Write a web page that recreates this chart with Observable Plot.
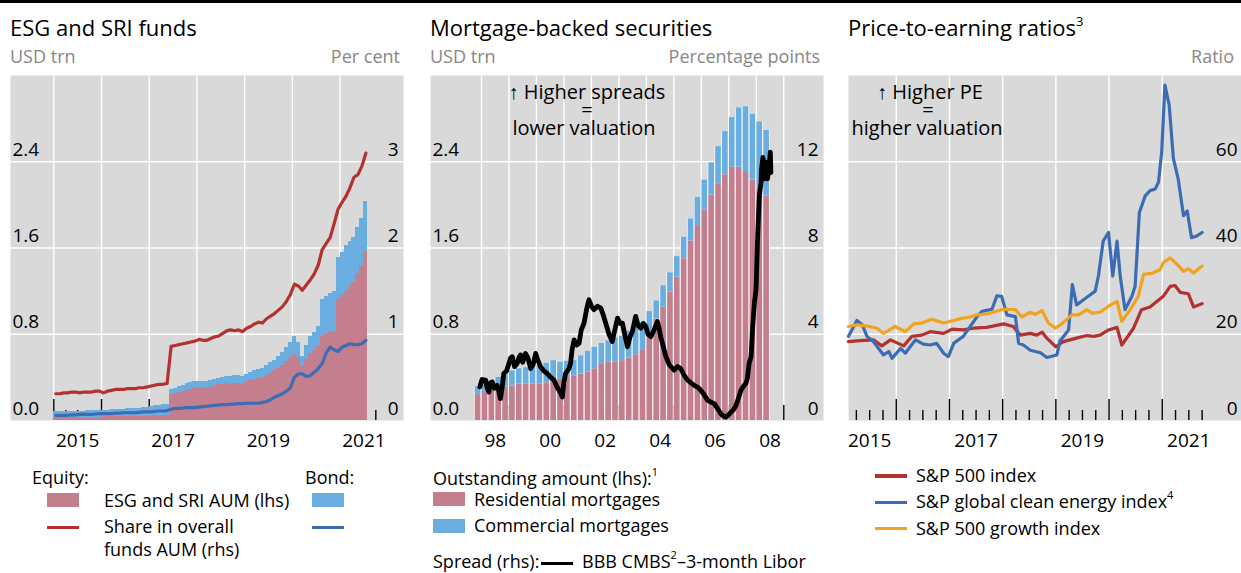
<!DOCTYPE html>
<html><head><meta charset="utf-8">
<script src="https://cdn.jsdelivr.net/npm/d3@7"></script>
<script src="https://cdn.jsdelivr.net/npm/@observablehq/plot@0.6"></script>
<style>
body{margin:0;background:#fff;font-family:"Open Sans",sans-serif;}
#c{position:relative;width:1241px;height:573px;overflow:hidden;font-family:"Open Sans",sans-serif;color:#000;}
.a{position:absolute;white-space:nowrap;line-height:1;}
.title{font-size:22px;top:16px;}
.unit{font-size:18px;color:#878787;top:47px;}
.leg{font-size:18px;}
.sup{font-size:11px;position:relative;top:-9px;}
.note{position:absolute;width:300px;text-align:center;font-family:"Open Sans",sans-serif;font-size:20px;line-height:18px;white-space:nowrap;z-index:2;}
.eq{line-height:10px;}
</style></head>
<body><div id="c">
<div class="a" style="left:0;top:0;width:1241px;height:3px;background:#000"></div>
<div class="a title" style="left:10px">ESG and SRI funds</div>
<div class="a title" style="left:430px">Mortgage-backed securities</div>
<div class="a title" style="left:848px">Price-to-earning ratios<span class="sup" style="font-size:13px;top:-10px">3</span></div>
<div class="a unit" style="left:10px">USD trn</div>
<div class="a unit" style="right:841px">Per cent</div>
<div class="a unit" style="left:430px">USD trn</div>
<div class="a unit" style="right:421px">Percentage points</div>
<div class="a unit" style="right:7px">Ratio</div>

<!-- legend panel 1 -->
<div class="a leg" style="left:32px;top:468px">Equity:</div>
<div class="a leg" style="left:305px;top:468px">Bond:</div>
<div class="a" style="left:47px;top:493px;width:32px;height:14px;background:#c47f8e"></div>
<div class="a leg" style="left:104px;top:491px">ESG and SRI AUM (lhs)</div>
<div class="a" style="left:312px;top:493px;width:32px;height:14px;background:#6aade0"></div>
<div class="a" style="left:47px;top:525.5px;width:32px;height:3.5px;background:#b3312f"></div>
<div class="a leg" style="left:104px;top:517px">Share in overall</div>
<div class="a leg" style="left:104px;top:540px">funds AUM (rhs)</div>
<div class="a" style="left:312px;top:525.5px;width:32px;height:3.5px;background:#3c6db4"></div>

<!-- legend panel 2 -->
<div class="a leg" style="left:433px;top:469px">Outstanding amount (lhs):<span class="sup">1</span></div>
<div class="a" style="left:433px;top:492px;width:32px;height:14px;background:#c47f8e"></div>
<div class="a leg" style="left:474px;top:490px">Residential mortgages</div>
<div class="a" style="left:433px;top:519px;width:32px;height:14px;background:#6aade0"></div>
<div class="a leg" style="left:474px;top:516px">Commercial mortgages</div>
<div class="a leg" style="left:433px;top:552px">Spread (rhs):</div>
<div class="a" style="left:541px;top:561.5px;width:32px;height:3.6px;background:#000"></div>
<div class="a leg" style="left:582px;top:552px">BBB CMBS<span class="sup">2</span>–3-month Libor</div>

<!-- legend panel 3 -->
<div class="a" style="left:875px;top:474.3px;width:32px;height:3.4px;background:#b3312f"></div>
<div class="a leg" style="left:916px;top:466px">S&amp;P 500 index</div>
<div class="a" style="left:875px;top:500.6px;width:32px;height:3.4px;background:#3c6db4"></div>
<div class="a leg" style="left:916px;top:492px">S&amp;P global clean energy index<span class="sup">4</span></div>
<div class="a" style="left:875px;top:526.6px;width:32px;height:3.4px;background:#f0a31f"></div>
<div class="a leg" style="left:916px;top:519px">S&amp;P 500 growth index</div>

<div class="note" style="left:437px;top:83px">↑ Higher spreads</div>
<div class="note eq" style="left:437px;top:105px">=</div>
<div class="note" style="left:434px;top:119px">lower valuation</div>
<div class="note" style="left:780px;top:83px">↑ Higher PE</div>
<div class="note eq" style="left:778px;top:105px">=</div>
<div class="note" style="left:777px;top:119px">higher valuation</div>
</div>
<script>
// ---------------- Panel 1: ESG and SRI funds (monthly, from Jan 2015) ----------------
const esgStartYear = 2015;
const esgEquityAUM = [
 0.03,0.03,0.03,0.03,0.03,0.03,0.03,0.03,0.03,0.03,0.03,0.03,
 0.035,0.035,0.035,0.035,0.035,0.035,0.04,0.04,0.04,0.04,0.04,0.04,
 0.045,0.045,0.05,0.05,0.05,0.24,0.25,0.26,0.27,0.28,0.29,0.30,
 0.31,0.31,0.30,0.31,0.32,0.33,0.33,0.34,0.33,0.34,0.34,0.33,
 0.36,0.37,0.38,0.39,0.40,0.42,0.44,0.46,0.48,0.51,0.55,0.58,
 0.61,0.58,0.50,0.57,0.62,0.65,0.69,0.78,0.80,0.82,0.83,1.12,
 1.16,1.20,1.24,1.28,1.36,1.43,1.56];
const esgBondAUM = [
 0.05,0.05,0.055,0.055,0.055,0.055,0.055,0.055,0.06,0.06,0.06,0.06,
 0.06,0.06,0.065,0.065,0.065,0.07,0.07,0.07,0.075,0.075,0.08,0.08,
 0.085,0.09,0.09,0.095,0.10,0.05,0.05,0.055,0.055,0.06,0.06,0.06,
 0.05,0.055,0.06,0.06,0.06,0.06,0.065,0.065,0.08,0.08,0.08,0.08,
 0.07,0.075,0.08,0.08,0.085,0.09,0.095,0.10,0.11,0.12,0.13,0.14,
 0.17,0.14,0.09,0.13,0.16,0.17,0.18,0.34,0.35,0.36,0.37,0.39,
 0.40,0.42,0.42,0.42,0.43,0.44,0.47];
const equityShare = [
 0.31,0.31,0.32,0.32,0.33,0.33,0.32,0.33,0.33,0.33,0.34,0.34,
 0.32,0.34,0.35,0.36,0.36,0.36,0.37,0.37,0.37,0.38,0.38,0.39,
 0.40,0.41,0.42,0.42,0.43,0.86,0.87,0.88,0.89,0.90,0.91,0.92,
 0.94,0.93,0.93,0.95,0.97,0.98,1.01,1.04,1.05,1.04,1.05,1.03,
 1.07,1.09,1.12,1.14,1.13,1.18,1.21,1.24,1.28,1.32,1.38,1.46,
 1.58,1.56,1.51,1.57,1.63,1.70,1.80,1.98,2.05,2.12,2.28,2.45,
 2.53,2.60,2.70,2.82,2.85,2.95,3.10];
const bondShare = [
 0.06,0.06,0.06,0.06,0.065,0.065,0.07,0.07,0.07,0.07,0.075,0.08,
 0.08,0.08,0.08,0.085,0.085,0.09,0.09,0.09,0.09,0.095,0.10,0.10,
 0.10,0.105,0.11,0.11,0.115,0.13,0.14,0.14,0.145,0.15,0.15,0.15,
 0.155,0.16,0.165,0.17,0.175,0.18,0.185,0.185,0.19,0.19,0.195,0.195,
 0.20,0.20,0.20,0.20,0.21,0.22,0.24,0.27,0.29,0.31,0.34,0.38,
 0.50,0.54,0.54,0.51,0.52,0.56,0.60,0.66,0.78,0.85,0.82,0.80,
 0.85,0.87,0.89,0.88,0.88,0.89,0.93];
const esgYearLabels = ["2015","2017","2019","2021"];
const esgGridYears = [2015,2016,2017,2018,2019,2020,2021];
const lhsTicks = [0, 0.8, 1.6, 2.4];

// ---------------- Panel 2: Mortgage-backed securities (quarterly, from 1997 Q4) ----------------
const mbsStart = 1997.75;
const mbsResidential = [0.24,
 0.27,0.28,0.28,0.31, 0.32,0.34,0.34,0.34, 0.34,0.35,0.37,0.38, 0.40,0.41,0.43,0.45,
 0.48,0.52,0.54,0.54, 0.555,0.58,0.61,0.65, 0.78,0.94,1.05,1.19, 1.33,1.50,1.665,1.80,
 1.95,2.09,2.19,2.28, 2.35,2.35,2.31,2.23, 2.16,2.08];
const mbsCommercial = [0.075,
 0.10,0.09,0.12,0.11, 0.14,0.14,0.15,0.16, 0.17,0.18,0.185,0.16, 0.15,0.145,0.17,0.19,
 0.20,0.195,0.20,0.225, 0.225,0.25,0.26,0.26, 0.23,0.17,0.20,0.18, 0.19,0.20,0.205,0.27,
 0.28,0.30,0.35,0.40, 0.46,0.55,0.60,0.61, 0.61,0.61];
const spreadDates = [1997.94,1998.02,1998.15,1998.21,1998.27,1998.33,1998.39,1998.47,1998.57,1998.64,1998.69,1998.75,1998.81,1998.91,
 1999.00,1999.06,1999.12,1999.20,1999.30,1999.36,1999.42,1999.50,1999.60,1999.69,1999.79,1999.88,1999.97,
 2000.05,2000.15,2000.27,2000.39,2000.52,2000.64,2000.73,2000.82,2000.94,
 2001.00,2001.06,2001.18,2001.24,2001.30,2001.37,2001.46,2001.55,2001.63,2001.73,2001.83,2001.91,
 2002.00,2002.09,2002.22,2002.34,2002.43,2002.52,2002.64,2002.76,2002.85,2002.95,
 2003.04,2003.13,2003.21,2003.31,2003.41,2003.49,2003.61,2003.70,2003.80,2003.89,2003.98,
 2004.06,2004.16,2004.28,2004.40,2004.46,2004.52,2004.62,2004.71,2004.83,
 2005.01,2005.13,2005.25,2005.37,2005.50,2005.62,2005.74,2005.86,2005.98,
 2006.10,2006.23,2006.35,2006.47,2006.59,2006.71,2006.81,2006.89,2006.98,
 2007.08,2007.17,2007.26,2007.34,2007.44,2007.54,2007.62,2007.68,2007.74,2007.81,2007.87,2007.93,2007.99,
 2008.05,2008.11,2008.17,2008.19,2008.24,2008.29,2008.35,2008.41,2008.47,2008.51,2008.53];
const spreadValues = [1.56,1.9,1.87,1.5,1.32,1.75,1.79,1.5,1.63,1.3,1.01,1.5,2.18,2.3,
 2.65,2.9,2.96,2.5,2.65,2.9,3.04,2.7,3.11,2.9,2.41,2.6,3.11,
 2.8,2.49,2.3,2.18,2.0,1.87,1.6,1.40,1.09,
 1.8,2.18,2.4,2.65,3.3,3.74,3.5,3.58,4.2,4.51,5.2,5.6,
 5.3,5.14,5.3,5.21,4.9,4.51,4.0,3.66,4.2,4.75,
 4.5,4.51,4.0,3.42,3.9,4.12,4.83,4.4,4.28,4.5,4.36,
 4.0,3.89,4.2,4.59,4.3,3.89,3.4,2.96,2.6,
 2.33,2.5,2.41,2.1,1.87,1.75,1.63,1.55,1.40,
 1.2,0.93,0.85,0.78,0.55,0.31,0.2,0.16,0.25,
 0.39,0.5,0.7,1.0,1.4,1.6,1.71,2.0,2.65,2.96,4.36,5.45,6.07,
 8.56,10.43,11.0,11.67,12.2,11.21,11.98,11.21,11.83,12.45,11.5];
const mbsYearLabels = ["98","00","02","04","06","08"];
const mbsLabelYears = [1998,2000,2002,2004,2006,2008];
const mbsGridYears = [1998,1999,2000,2001,2002,2003,2004,2005,2006,2007,2008,2009];

// ---------------- Panel 3: Price-to-earning ratios ----------------
const sp500Dates = [2015.10,2015.32,2015.57,2015.73,2015.89,2016.14,2016.29,2016.48,2016.64,2016.89,2017.05,2017.26,2017.45,2017.70,2018.02,2018.20,2018.33,2018.52,2018.64,2018.74,2018.83,2019.00,2019.14,2019.39,2019.58,2019.71,2019.83,2019.99,2020.15,2020.24,2020.46,2020.61,2020.77,2021.02,2021.15,2021.24,2021.34,2021.49,2021.59,2021.75];
const sp500PE = [18.3,18.5,18.7,17.3,18.7,17.3,19.5,19.8,20.6,20.2,21.2,21.0,21.4,21.6,22.4,21.8,19.8,20.2,19.8,20.5,19.1,17.1,18.3,19.1,19.7,19.5,19.8,21.0,21.6,17.5,21.4,25.7,26.3,28.8,31.1,31.3,29.7,29.4,26.3,27.1];
const growthDates = [2015.10,2015.26,2015.45,2015.64,2015.76,2015.98,2016.17,2016.33,2016.48,2016.67,2016.89,2017.08,2017.23,2017.39,2017.52,2017.70,2017.98,2018.08,2018.24,2018.36,2018.52,2018.61,2018.74,2018.86,2018.99,2019.14,2019.30,2019.43,2019.58,2019.68,2019.83,2019.99,2020.15,2020.24,2020.40,2020.55,2020.65,2020.80,2020.96,2021.02,2021.15,2021.27,2021.40,2021.49,2021.59,2021.75];
const growthPE = [21.8,22.2,21.9,21.4,20.2,21.8,20.6,22.4,22.6,23.5,22.6,23.2,23.7,24.0,24.5,24.7,25.7,25.8,25.7,24.0,25.1,24.6,25.5,22.6,21.4,22.7,24.5,24.5,25.7,24.9,25.1,26.5,27.6,23.0,25.7,28.8,33.9,34.1,35.0,36.6,37.7,36.3,34.6,35.2,34.2,35.8];
const cleanDates = [2015.10,2015.26,2015.36,2015.45,2015.57,2015.76,2015.86,2015.92,2016.08,2016.17,2016.36,2016.51,2016.64,2016.76,2016.89,2016.98,2017.08,2017.26,2017.39,2017.52,2017.61,2017.80,2017.89,2017.98,2018.08,2018.24,2018.30,2018.39,2018.52,2018.71,2018.83,2019.02,2019.08,2019.24,2019.31,2019.39,2019.52,2019.61,2019.74,2019.80,2019.89,2019.99,2020.07,2020.15,2020.21,2020.30,2020.43,2020.49,2020.57,2020.68,2020.77,2020.87,2020.93,2020.99,2021.05,2021.13,2021.21,2021.30,2021.40,2021.47,2021.55,2021.65,2021.75];
const cleanPE = [19.5,23.2,22.2,19.5,18.3,15.2,16.0,14.4,16.7,15.6,18.7,17.7,17.5,17.9,15.6,14.8,17.9,19.5,21.8,24.1,25.3,25.8,28.9,28.8,24.5,24.1,17.9,17.5,16.3,15.7,14.6,15.2,18.5,21.0,31.5,26.8,28.0,28.8,30.0,33.5,41.6,43.6,33.5,41.6,33.5,25.7,28.8,31.1,48.2,52.1,53.3,53.7,55.3,62.3,77.8,73.2,60.7,56.0,47.5,48.6,42.4,42.8,43.6];
const peYearLabels = ["2015","2017","2019","2021"];
const peGridYears = [2016,2017,2018,2019,2020,2021];
const peTicks = [0,20,40,60];

// ---------------- styles ----------------
const bg = "#d9d9d9", pink = "#c47f8e", lblue = "#6aade0", red = "#b3312f", dblue = "#3c6db4", orange = "#f0a31f";
const base = {height: 460, marginLeft: 10, marginTop: 75, marginBottom: 40,
  style: {fontFamily: '"Open Sans", sans-serif', fontSize: "19px", background: "transparent", overflow: "visible", color: "#000"}};
const grid = {stroke: "white", strokeOpacity: 1, strokeWidth: 1.4};
const yAxisL = {anchor: "left", label: null, tickSize: 0, tickPadding: 0, dx: 2, dy: -6, textAnchor: "start", lineAnchor: "bottom"};
const yAxisR = {anchor: "right", label: null, tickSize: 0, tickPadding: 0, dx: -5, dy: -6, textAnchor: "end", lineAnchor: "bottom"};
const xAxis = {anchor: "bottom", label: null, tickSize: 0, tickPadding: 13};
function mount(svg, left) {
  svg.style.position = "absolute"; svg.style.left = left + "px"; svg.style.top = "0px";
  document.getElementById("c").appendChild(svg);
}
const quarters = ys => ys.flatMap(y => [y + 0.25, y + 0.5, y + 0.75]);

// Panel 1
const esg = esgEquityAUM.map((eq, i) => ({
  x1: esgStartYear + i / 12, x2: esgStartYear + (i + 1) / 12, xm: esgStartYear + (i + 0.5) / 12,
  eq, tot: eq + esgBondAUM[i], eqShare: equityShare[i], bondShare: bondShare[i]}));
mount(Plot.plot({...base, width: 420, marginRight: 17,
  x: {domain: [2014.092, 2022.33], label: null}, y: {domain: [0, 3.2], label: null},
  marks: [
    Plot.frame({fill: bg}),
    Plot.gridX(esgGridYears, grid),
    Plot.gridY(lhsTicks.slice(1), grid),
    Plot.ruleX(esgGridYears, {x: d => d, stroke: "black", strokeWidth: 1.4, insetTop: 324}),
    Plot.ruleX(quarters(esgGridYears), {x: d => d, stroke: "black", strokeWidth: 1.4, insetTop: 335}),
    Plot.rectY(esg, {x1: "x1", x2: "x2", y1: 0, y2: "eq", fill: pink, shapeRendering: "crispEdges"}),
    Plot.rectY(esg, {x1: "x1", x2: "x2", y1: "eq", y2: "tot", fill: lblue, shapeRendering: "crispEdges"}),
    Plot.line(esg, {x: "xm", y: d => d.eqShare * 0.8, stroke: red, strokeWidth: 3.2}),
    Plot.line(esg, {x: "xm", y: d => d.bondShare * 0.8, stroke: dblue, strokeWidth: 3.2}),
    Plot.axisY(lhsTicks, {...yAxisL, tickFormat: d => d.toFixed(1)}),
    Plot.axisY(lhsTicks, {...yAxisR, tickFormat: d => String(Math.round(d / 0.8))}),
    Plot.axisX(esgYearLabels.map(s => +s + 0.5), {...xAxis, tickFormat: d => esgYearLabels[esgYearLabels.indexOf(String(Math.floor(d)))]})
  ]}), 0);

// Panel 2
const mbs = mbsResidential.map((r, i) => ({x1: mbsStart + i / 4, x2: mbsStart + (i + 1) / 4, res: r, tot: r + mbsCommercial[i]}));
const spread = spreadDates.map((d, i) => ({x: d, v: spreadValues[i]}));
mount(Plot.plot({...base, width: 420, marginRight: 17,
  x: {domain: [1996.144, 2010.445], label: null}, y: {domain: [0, 3.2], label: null},
  marks: [
    Plot.frame({fill: bg}),
    Plot.gridX(mbsGridYears, grid),
    Plot.gridY(lhsTicks.slice(1), grid),
    Plot.ruleX(mbsGridYears, {x: d => d, stroke: "black", strokeWidth: 1.4, insetTop: 330}),
    Plot.rectY(mbs, {x1: "x1", x2: "x2", y1: 0, y2: "tot", fill: "white"}),
    Plot.rectY(mbs, {x1: "x1", x2: "x2", y1: 0, y2: "res", fill: pink, insetLeft: 0.6, insetRight: 0.6}),
    Plot.rectY(mbs, {x1: "x1", x2: "x2", y1: "res", y2: "tot", fill: lblue, insetLeft: 0.6, insetRight: 0.6}),
    Plot.line(spread, {x: "x", y: d => d.v * 0.2, stroke: "black", strokeWidth: 4.8, strokeLinejoin: "round"}),
    Plot.axisY(lhsTicks, {...yAxisL, tickFormat: d => d.toFixed(1)}),
    Plot.axisY(lhsTicks, {...yAxisR, tickFormat: d => String(Math.round(d / 0.2))}),
    Plot.axisX(mbsLabelYears.map(y => y + 0.5), {...xAxis, tickFormat: d => mbsYearLabels[mbsLabelYears.indexOf(Math.floor(d))]})
  ]}), 420);

// Panel 3
const sp = sp500Dates.map((d, i) => ({x: d, v: sp500PE[i]}));
const gr = growthDates.map((d, i) => ({x: d, v: growthPE[i]}));
const cl = cleanDates.map((d, i) => ({x: d, v: cleanPE[i]}));
mount(Plot.plot({...base, width: 403, marginRight: 0,
  x: {domain: [2015.102, 2022.49], label: null}, y: {domain: [0, 80], label: null},
  marks: [
    Plot.frame({fill: bg}),
    Plot.gridX(peGridYears, grid),
    Plot.gridY(peTicks.slice(1), grid),
    Plot.ruleX(peGridYears, {x: d => d, stroke: "black", strokeWidth: 1.4, insetTop: 324}),
    Plot.ruleX(quarters([2015, ...peGridYears]), {x: d => d, stroke: "black", strokeWidth: 1.4, insetTop: 335}),
    Plot.line(sp, {x: "x", y: "v", stroke: red, strokeWidth: 3.2}),
    Plot.line(cl, {x: "x", y: "v", stroke: dblue, strokeWidth: 3.2}),
    Plot.line(gr, {x: "x", y: "v", stroke: orange, strokeWidth: 3.2}),
    Plot.axisY(peTicks, {...yAxisR, dx: -4, tickFormat: d => String(d)}),
    Plot.axisX(peYearLabels.map(s => +s + 0.5), {...xAxis, tickFormat: d => peYearLabels[peYearLabels.indexOf(String(Math.floor(d)))]})
  ]}), 838);
</script>
</body></html>
